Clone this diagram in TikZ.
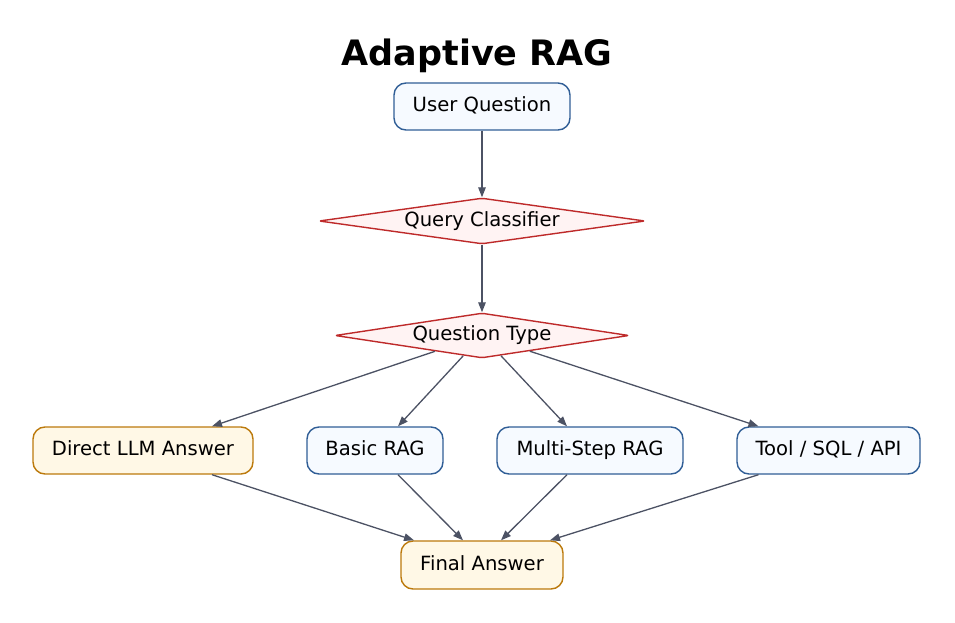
\documentclass[tikz,border=0pt]{standalone}
\usepackage{fontspec}
\setmainfont{DejaVu Sans}
\usetikzlibrary{arrows.meta,shapes.geometric}

\definecolor{blueedge}{RGB}{48,94,150}
\definecolor{bluefill}{RGB}{246,250,255}
\definecolor{rededge}{RGB}{190,42,42}
\definecolor{redfill}{RGB}{255,243,243}
\definecolor{ambedge}{RGB}{188,122,12}
\definecolor{ambfill}{RGB}{255,248,230}
\definecolor{linkgray}{RGB}{76,82,100}

\begin{document}
\begin{tikzpicture}[x=1pt,y=-1pt,>={Triangle[length=10pt,width=7.5pt]},line join=round,
  font=\fontsize{19.6}{23}\selectfont,
  box/.style={draw=blueedge,fill=bluefill,line width=1.4pt,rounded corners=12pt,
    minimum height=47pt,inner sep=0pt,text height=14.5pt,text depth=4pt},
  ansbox/.style={box,draw=ambedge,fill=ambfill},
  decide/.style={diamond,draw=rededge,fill=redfill,line width=1.4pt,aspect=7,
    inner sep=0pt,rounded corners=2pt,text height=14.5pt,text depth=4pt},
  link/.style={->,draw=linkgray,line width=1.3pt}]

\useasboundingbox (0,0) rectangle (955,623);

%% ---------------- title and the two decisions ----------------
\node[font=\fontsize{35}{40}\selectfont\bfseries] (title) at (477,56) {Adaptive RAG};
\node[box,minimum width=176pt] (uq) at (482,106.5) {User Question};
\node[decide,minimum width=326pt,minimum height=46pt] (qc) at (482,221) {Query Classifier};
\node[decide,minimum width=294pt,minimum height=45pt] (qtype) at (482,335.5) {Question Type};

%% ---------------- the four routes ----------------
\node[ansbox,minimum width=220pt] (direct) at (143,450.5) {Direct LLM Answer};
\node[box,minimum width=136pt] (basic) at (375,450.5) {Basic RAG};
\node[box,minimum width=186pt] (multi) at (590,450.5) {Multi-Step RAG};
\node[box,minimum width=183pt] (tool) at (828.5,450.5) {Tool / SQL / API};

\node[ansbox,minimum width=162pt,minimum height=48pt] (final) at (482,565) {Final Answer};

%% ---------------- connectors ----------------
\draw[link] (uq) -- (qc);
\draw[link] (qc) -- (qtype);
\draw[link] (qtype) -- ([xshift=69pt]direct.north);
\draw[link] (qtype) -- ([xshift=23pt]basic.north);
\draw[link] (qtype) -- ([xshift=-23pt]multi.north);
\draw[link] (qtype) -- ([xshift=-70pt]tool.north);
\draw[link] ([xshift=69pt]direct.south) -- ([xshift=-68pt]final.north);
\draw[link] ([xshift=23pt]basic.south) -- ([xshift=-19pt]final.north);
\draw[link] ([xshift=-23pt]multi.south) -- ([xshift=19pt]final.north);
\draw[link] ([xshift=-70pt]tool.south) -- ([xshift=68pt]final.north);

\end{tikzpicture}
\end{document}
